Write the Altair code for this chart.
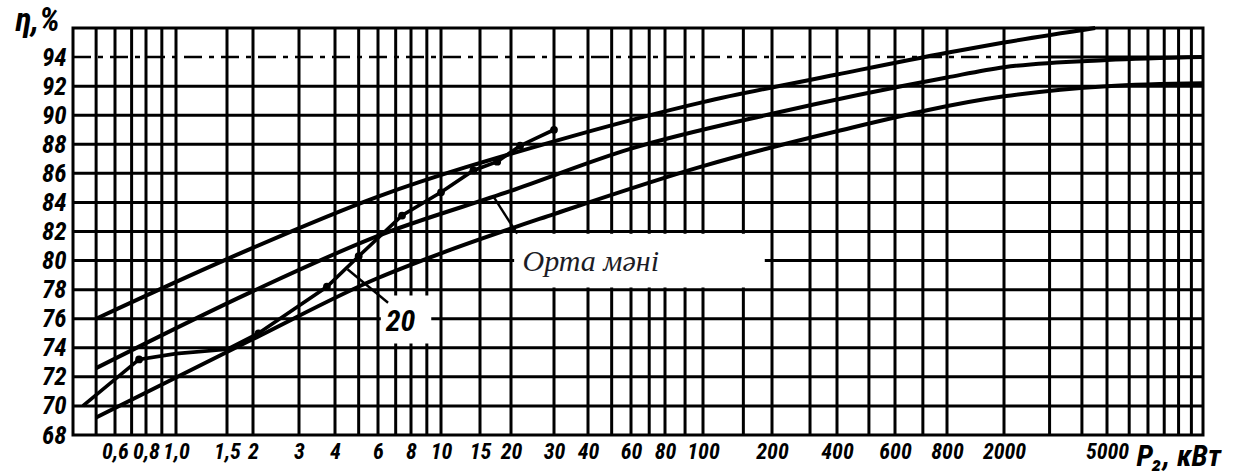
import altair as alt
import pandas as pd

# ---------------- data ----------------
# x axis tick labels (P2, kW) and vertical grid lines
x_ticks = [0.6, 0.8, 1.0, 1.5, 2, 3, 4, 6, 8, 10, 15, 20, 30, 40, 60, 80, 100,
           200, 400, 600, 800, 2000, 5000]
x_grid = [0.5, 0.6, 0.7, 0.8, 0.9, 1, 1.5, 2, 3, 4, 5, 6, 7, 8, 9, 10, 15, 20,
          30, 40, 50, 60, 70, 80, 90, 100, 150, 200, 300, 400, 500, 600, 700,
          800, 2000, 3000, 4000, 5000, 6000, 7000, 8000, 9000, 10000]
# y axis (efficiency, %)
y_ticks = [68, 70, 72, 74, 76, 78, 80, 82, 84, 86, 88, 90, 92, 94]
y_grid = [70, 72, 74, 76, 78, 80, 82, 84, 86, 88, 90, 92]

# upper limit curve
upper_P = [0.5, 1.5, 6, 30, 100, 400, 800, 2000, 4500]
upper_eta = [76.0, 80.1, 84.4, 88.2, 90.9, 92.8, 94.3, 95.0, 96.0]
# mean value curve ("Орта мәні")
mean_P = [0.5, 2, 6, 20, 60, 200, 800, 2000, 5000, 11000]
mean_eta = [72.6, 77.9, 81.7, 84.8, 87.7, 90.1, 92.6, 93.3, 93.8, 94.0]
# lower limit curve
lower_P = [0.5, 2, 6, 10, 30, 100, 400, 2000, 5000, 11000]
lower_eta = [69.2, 74.6, 78.8, 80.5, 83.2, 86.5, 88.9, 91.3, 92.0, 92.2]
# series "20" (measured points)
s20_P = [0.44, 0.75, 1.0, 1.5, 2.1, 3.75, 5, 7.4, 10, 14, 17.6, 21.8, 30]
s20_eta = [70.0, 73.2, 73.6, 73.9, 75.0, 78.2, 80.3, 83.1, 84.7, 86.2, 86.8, 87.9, 89.0]
s20_dots_P = [0.75, 2.1, 3.75, 5, 7.4, 10, 14, 17.6, 21.8, 30]

# annotations
mean_label = "Орта мәні"
s20_label = "20"

# ---------------- scales / axes ----------------
X_DOMAIN = [0.4] + x_ticks + [11000]
X_PIX = [73, 115, 146, 176, 227, 253, 299, 335, 378, 411, 441, 480, 511, 554,
         588, 631, 665, 703, 772, 837, 895, 947, 1004, 1107, 1203]
X_RANGE = [p - 73 for p in X_PIX]

xs = alt.Scale(type="log", domain=X_DOMAIN, range=X_RANGE, nice=False)
ys = alt.Scale(domain=[68, 96], nice=False, zero=False)

FONT = "'Roboto Condensed', 'Liberation Sans Narrow', Roboto, sans-serif"

xaxis = alt.Axis(values=x_ticks, grid=False, ticks=False, domain=False,
                 labelExpr="datum.value == 1 ? '1,0' : replace(toString(datum.value), '.', ',')",
                 labelFont=FONT, labelFontSize=22, labelFontWeight="bold",
                 labelFontStyle="italic", labelColor="black", labelPadding=6,
                 labelOverlap=False, labelFlush=False, labelBound=False,
                 title="P₂, кВт", titleFont=FONT, titleFontSize=30,
                 titleFontWeight="bold", titleFontStyle="italic", titleColor="black",
                 titleX=1063, titleY=21, titleAlign="left", titleBaseline="middle",
                 titleAnchor="start")
yaxis = alt.Axis(values=y_ticks, grid=False, ticks=False, domain=False,
                 format="d", labelFont=FONT, labelFontSize=25, labelFontWeight="bold",
                 labelFontStyle="italic", labelColor="black", labelPadding=7,
                 labelOverlap=False, labelFlush=False, labelBound=False,
                 title="η,%", titleFont=FONT, titleFontSize=33, titleFontWeight="bold",
                 titleFontStyle="italic", titleColor="black", titleAngle=0,
                 titleX=-36, titleY=-8, titleAlign="center", titleBaseline="middle")

X = lambda f: alt.X(f, type="quantitative", scale=xs, axis=xaxis)
Y = lambda f: alt.Y(f, type="quantitative", scale=ys, axis=yaxis)

GRID_W = 3.0
LINE_W = 4.0

vgrid = alt.Chart(pd.DataFrame({"P": x_grid})).mark_rule(
    color="black", strokeWidth=GRID_W).encode(x=X("P"))
hgrid = alt.Chart(pd.DataFrame({"eta": y_grid})).mark_rule(
    color="black", strokeWidth=GRID_W).encode(y=Y("eta"))

g94_dash = alt.Chart(pd.DataFrame({"x0": [0.4], "x1": [3000], "eta": [94]})).mark_rule(
    color="black", strokeWidth=GRID_W - 0.4, strokeDash=[18, 7, 5, 7]).encode(
    x=X("x0"), x2="x1", y=Y("eta"))
g94_solid = alt.Chart(pd.DataFrame({"x0": [3000], "x1": [11000], "eta": [94]})).mark_rule(
    color="black", strokeWidth=GRID_W).encode(x=X("x0"), x2="x1", y=Y("eta"))

curves = pd.concat([
    pd.DataFrame({"P": upper_P, "eta": upper_eta, "curve": "upper"}),
    pd.DataFrame({"P": mean_P, "eta": mean_eta, "curve": "mean"}),
    pd.DataFrame({"P": lower_P, "eta": lower_eta, "curve": "lower"}),
])
main_lines = alt.Chart(curves).mark_line(
    color="black", strokeWidth=LINE_W, interpolate="monotone").encode(
    x=X("P"), y=Y("eta"), detail="curve:N")

s20_df = pd.DataFrame({"P": s20_P, "eta": s20_eta})
s20_line = alt.Chart(s20_df).mark_line(color="black", strokeWidth=LINE_W - 0.4).encode(
    x=X("P"), y=Y("eta"))
s20_dots = alt.Chart(s20_df[s20_df["P"].isin(s20_dots_P)]).mark_circle(
    color="black", size=60, opacity=1).encode(x=X("P"), y=Y("eta"))

# white label boxes
boxes = alt.Chart(pd.DataFrame({
    "x0": [20.6, 6.15], "x1": [186, 9.3], "y0": [78.15, 74.3], "y1": [81.85, 77.6]
})).mark_rect(color="white").encode(x=X("x0"), x2="x1", y=Y("y0"), y2="y1")

leaders = alt.Chart(pd.DataFrame({
    "x0": [17, 4.5], "x1": [21.2, 6.55], "y0": [84.4, 79.4], "y1": [81.85, 77.1]
})).mark_rule(color="black", strokeWidth=2.4).encode(x=X("x0"), x2="x1", y=Y("y0"), y2="y1")

mean_text = alt.Chart(pd.DataFrame({"P": [22.3], "eta": [79.9], "t": [mean_label]})).mark_text(
    font="'Liberation Serif', 'Times New Roman', serif", fontSize=30, fontStyle="italic",
    color="#1c1c26", align="left", baseline="middle").encode(x=X("P"), y=Y("eta"), text="t:N")

s20_text = alt.Chart(pd.DataFrame({"P": [7.3], "eta": [75.8], "t": [s20_label]})).mark_text(
    font=FONT, fontSize=30, fontStyle="italic", fontWeight="bold",
    color="black", align="center", baseline="middle").encode(x=X("P"), y=Y("eta"), text="t:N")

chart = alt.layer(
    vgrid, hgrid, g94_dash, g94_solid, boxes, leaders,
    main_lines, s20_line, s20_dots, mean_text, s20_text
).properties(
    width=1130, height=407,
    padding={"left": 73, "top": 28, "right": 44, "bottom": 37},
    autosize=alt.AutoSizeParams(type="none"),
    background="white",
).configure_view(stroke="black", strokeWidth=3)

chart.save("out.html", embed_options={"renderer": "svg", "actions": False})
